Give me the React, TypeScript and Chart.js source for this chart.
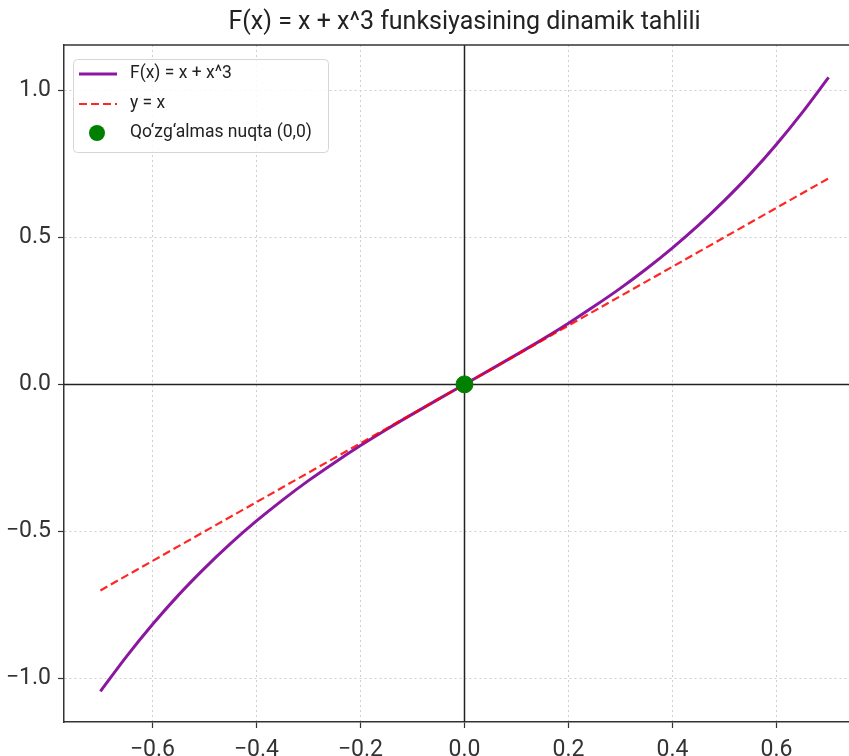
import React, { useEffect, useRef } from "react";
import { Chart, registerables } from "chart.js";

Chart.register(...registerables);

const TITLE = "F(x) = x + x^3 funksiyasining dinamik tahlili";
const seriesLabels = ["F(x) = x + x^3", "y = x", "Qo‘zg‘almas nuqta (0,0)"];

const curveX = [-0.7, -0.65, -0.6, -0.55, -0.5, -0.45, -0.4, -0.35, -0.3, -0.25, -0.2, -0.15, -0.1, -0.05, 0,
  0.05, 0.1, 0.15, 0.2, 0.25, 0.3, 0.35, 0.4, 0.45, 0.5, 0.55, 0.6, 0.65, 0.7];
const curveY = [-1.043, -0.925, -0.816, -0.716, -0.625, -0.541, -0.464, -0.393, -0.327, -0.266, -0.208, -0.153, -0.101, -0.05, 0,
  0.05, 0.101, 0.153, 0.208, 0.266, 0.327, 0.393, 0.464, 0.541, 0.625, 0.716, 0.816, 0.925, 1.043];
const lineX = [-0.7, 0.7];
const lineY = [-0.7, 0.7];
const pointX = [0];
const pointY = [0];

const xTicks = [-0.6, -0.4, -0.2, 0, 0.2, 0.4, 0.6];
const yTicks = [-1.0, -0.5, 0, 0.5, 1.0];

const FONT = "Roboto, sans-serif";

const fmt = (v: number) => (v < -1e-9 ? "\u2212" : "") + Math.abs(v).toFixed(1);

const framePlugin = {
  id: "frame",
  beforeDatasetsDraw(chart: any) {
    const { ctx, chartArea, scales } = chart;
    const x0 = scales.x.getPixelForValue(0);
    const y0 = scales.y.getPixelForValue(0);
    ctx.save();
    ctx.strokeStyle = "#222";
    ctx.lineWidth = 1.5;
    ctx.beginPath();
    ctx.moveTo(x0, chartArea.top);
    ctx.lineTo(x0, chartArea.bottom);
    ctx.moveTo(chartArea.left, y0);
    ctx.lineTo(chartArea.right, y0);
    ctx.stroke();
    ctx.strokeStyle = "#333";
    ctx.beginPath();
    ctx.moveTo(chartArea.left, chartArea.top);
    ctx.lineTo(chartArea.right, chartArea.top);
    ctx.stroke();
    ctx.restore();
  },
};

const legendPlugin = {
  id: "customLegend",
  afterDraw(chart: any) {
    const { ctx, chartArea } = chart;
    const bx = chartArea.left + 9;
    const by = chartArea.top + 14;
    const bw = 255;
    const bh = 93;
    ctx.save();
    ctx.fillStyle = "rgba(255,255,255,0.85)";
    ctx.strokeStyle = "#d6d6d6";
    ctx.lineWidth = 1;
    ctx.beginPath();
    (ctx as any).roundRect(bx + 0.5, by + 0.5, bw, bh, 4);
    ctx.fill();
    ctx.stroke();
    const dsOrder = [2, 1, 0];
    const rows = [by + 15, by + 45, by + 74];
    ctx.font = `17.5px ${FONT}`;
    ctx.textBaseline = "middle";
    dsOrder.forEach((di, r) => {
      const ds = chart.data.datasets[di];
      const y = rows[r];
      if (ds.showLine === false) {
        ctx.fillStyle = ds.backgroundColor;
        ctx.beginPath();
        ctx.arc(bx + 24, y, 8, 0, Math.PI * 2);
        ctx.fill();
      } else {
        ctx.strokeStyle = ds.borderColor;
        ctx.lineWidth = ds.borderWidth;
        ctx.setLineDash(ds.borderDash || []);
        ctx.beginPath();
        ctx.moveTo(bx + 6, y);
        ctx.lineTo(bx + 44, y);
        ctx.stroke();
        ctx.setLineDash([]);
      }
      ctx.fillStyle = "#222";
      ctx.fillText(ds.label, bx + 57, y);
    });
    ctx.restore();
  },
};

export default function App() {
  const ref = useRef<HTMLCanvasElement | null>(null);
  useEffect(() => {
    if (!ref.current) return;
    const chart = new Chart(ref.current, {
      type: "scatter",
      data: {
        datasets: [
          {
            label: seriesLabels[2],
            data: pointX.map((x, i) => ({ x, y: pointY[i] })),
            showLine: false,
            backgroundColor: "#008000",
            borderColor: "#008000",
            pointRadius: 8.5,
            pointHoverRadius: 8.5,
            order: 0,
          },
          {
            label: seriesLabels[1],
            data: lineX.map((x, i) => ({ x, y: lineY[i] })),
            showLine: true,
            borderColor: "rgba(255,0,0,0.85)",
            backgroundColor: "rgba(255,0,0,0.85)",
            borderWidth: 2.2,
            borderDash: [8, 4],
            pointRadius: 0,
            order: 1,
          },
          {
            label: seriesLabels[0],
            data: curveX.map((x, i) => ({ x, y: curveY[i] })),
            showLine: true,
            borderColor: "#8b16a0",
            backgroundColor: "#8b16a0",
            borderWidth: 3,
            pointRadius: 0,
            cubicInterpolationMode: "monotone",
            order: 2,
          },
        ],
      } as any,
      options: {
        responsive: false,
        animation: false,
        devicePixelRatio: 1,
        layout: { padding: { left: 0, right: 15, top: 0, bottom: 0 } },
        plugins: {
          legend: { display: false },
          tooltip: { enabled: false },
          title: {
            display: true,
            text: TITLE,
            fullSize: false,
            color: "#222",
            font: { family: FONT, size: 25, weight: "normal" },
            padding: { top: 8, bottom: 7 },
          } as any,
        },
        scales: {
          x: {
            type: "linear",
            min: -0.77,
            max: 0.77,
            afterBuildTicks: (s: any) => {
              s.ticks = xTicks.map((v) => ({ value: v }));
            },
            afterFit: (s: any) => {
              s.height = 34;
            },
            ticks: {
              callback: (v: any) => fmt(Number(v)),
              color: "#333",
              font: { family: FONT, size: 23 },
              padding: 8,
              maxRotation: 0,
              autoSkip: false,
            },
            grid: {
              color: "#cfcfcf",
              lineWidth: 1,
              tickLength: 6,
              tickColor: "#333",
              tickWidth: 1.2,
            },
            border: { display: true, color: "#333", width: 1.5, dash: [2, 3] },
          },
          y: {
            type: "linear",
            min: -1.147,
            max: 1.153,
            afterBuildTicks: (s: any) => {
              s.ticks = yTicks.map((v) => ({ value: v }));
            },
            afterFit: (s: any) => {
              s.width = 64;
            },
            ticks: {
              callback: (v: any) => fmt(Number(v)),
              color: "#333",
              font: { family: FONT, size: 23 },
              padding: 7,
              autoSkip: false,
            },
            grid: {
              color: "#cfcfcf",
              lineWidth: 1,
              tickLength: 6,
              tickColor: "#333",
              tickWidth: 1.2,
            },
            border: { display: true, color: "#333", width: 1.5, dash: [2, 3] },
          },
        },
      } as any,
      plugins: [framePlugin, legendPlugin],
    });
    return () => chart.destroy();
  }, []);
  return (
    <div style={{ position: "fixed", left: 0, top: 0, width: 849, height: 756, overflow: "hidden", background: "#fff" }}>
      <canvas ref={ref} width={880} height={756} style={{ display: "block" }} />
    </div>
  );
}
